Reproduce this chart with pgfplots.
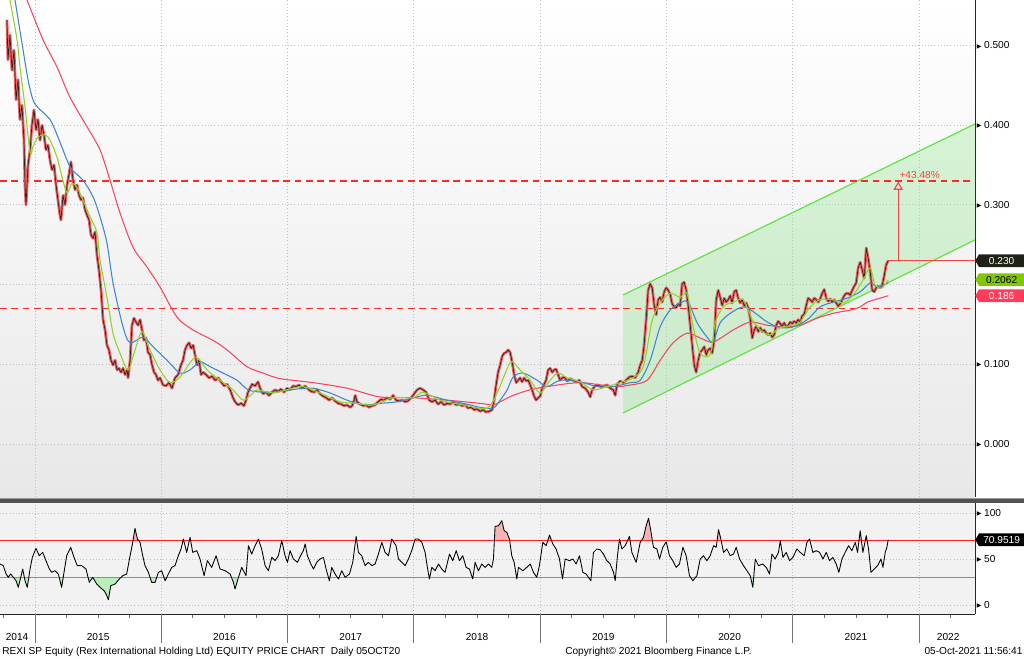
\documentclass[border=0pt]{standalone}
\usepackage{pgfplots}
\pgfplotsset{compat=1.18}
\usepackage{pgfplotstable}
\usepackage{fontspec}
\setmainfont{Liberation Sans}
\newfontfamily\dejavu{DejaVu Sans}
\usetikzlibrary{arrows.meta,shapes.symbols}

\definecolor{bgpanel}{RGB}{242,242,242}
\definecolor{gridc}{RGB}{190,190,208}
\definecolor{candlered}{RGB}{234,100,100}
\definecolor{magreen}{RGB}{145,212,40}
\definecolor{mablue}{RGB}{65,135,205}
\definecolor{mared}{RGB}{245,70,100}
\definecolor{chanline}{RGB}{100,225,70}
\definecolor{chanfill}{RGB}{140,230,140}
\definecolor{annred}{RGB}{240,70,70}
\definecolor{dashred}{RGB}{255,40,40}
\definecolor{tagdark}{RGB}{30,34,22}
\definecolor{taggreen}{RGB}{130,200,0}
\definecolor{tagred}{RGB}{255,60,90}
\definecolor{rsipink}{RGB}{245,180,180}
\definecolor{rsigreen}{RGB}{185,240,185}
\definecolor{rsired}{RGB}{255,30,30}
\definecolor{rsigr}{RGB}{50,205,50}

\newcommand{\lbl}{\fontsize{7.6}{9}\selectfont}
\newcommand{\tri}{\raisebox{0.6pt}{\dejavu\fontsize{4.5}{4.5}\selectfont ▶}\hspace{2pt}}

% REXI SP close (approx.)
\pgfplotstableread{
x y
2014.778 0.532
2014.786 0.482
2014.802 0.513
2014.818 0.469
2014.834 0.494
2014.850 0.432
2014.866 0.457
2014.881 0.407
2014.897 0.425
2014.913 0.381
2014.921 0.325
2014.929 0.300
2014.945 0.350
2014.961 0.369
2014.976 0.400
2014.992 0.419
2015.008 0.394
2015.024 0.407
2015.040 0.381
2015.056 0.400
2015.071 0.388
2015.087 0.369
2015.103 0.375
2015.119 0.356
2015.135 0.344
2015.151 0.350
2015.167 0.325
2015.182 0.306
2015.198 0.287
2015.206 0.281
2015.222 0.312
2015.238 0.300
2015.254 0.325
2015.269 0.338
2015.285 0.354
2015.301 0.331
2015.317 0.319
2015.333 0.325
2015.349 0.312
2015.365 0.306
2015.380 0.309
2015.396 0.294
2015.412 0.287
2015.428 0.281
2015.444 0.262
2015.460 0.258
2015.475 0.266
2015.491 0.237
2015.507 0.218
2015.523 0.193
2015.539 0.156
2015.555 0.143
2015.570 0.124
2015.586 0.118
2015.602 0.105
2015.618 0.099
2015.634 0.105
2015.650 0.093
2015.665 0.095
2015.681 0.090
2015.697 0.095
2015.713 0.087
2015.729 0.093
2015.737 0.083
2015.753 0.105
2015.768 0.149
2015.784 0.158
2015.800 0.153
2015.816 0.149
2015.832 0.156
2015.848 0.143
2015.863 0.130
2015.879 0.133
2015.895 0.115
2015.911 0.112
2015.927 0.099
2015.943 0.090
2015.958 0.087
2015.974 0.080
2015.990 0.083
2016.014 0.074
2016.038 0.073
2016.061 0.077
2016.085 0.070
2016.109 0.083
2016.133 0.087
2016.156 0.099
2016.172 0.105
2016.188 0.118
2016.204 0.124
2016.220 0.127
2016.236 0.120
2016.252 0.124
2016.267 0.112
2016.283 0.099
2016.299 0.105
2016.315 0.087
2016.331 0.090
2016.355 0.087
2016.378 0.083
2016.402 0.085
2016.426 0.080
2016.450 0.083
2016.473 0.078
2016.497 0.073
2016.521 0.075
2016.545 0.068
2016.568 0.058
2016.584 0.053
2016.608 0.049
2016.632 0.051
2016.655 0.048
2016.671 0.055
2016.687 0.065
2016.703 0.070
2016.719 0.075
2016.743 0.073
2016.766 0.078
2016.782 0.070
2016.806 0.063
2016.830 0.065
2016.853 0.061
2016.877 0.065
2016.901 0.068
2016.925 0.066
2016.948 0.069
2016.972 0.065
2016.996 0.070
2017.020 0.068
2017.044 0.073
2017.067 0.072
2017.091 0.074
2017.115 0.070
2017.139 0.073
2017.162 0.069
2017.186 0.066
2017.210 0.065
2017.234 0.068
2017.257 0.063
2017.281 0.060
2017.305 0.058
2017.329 0.055
2017.352 0.058
2017.376 0.054
2017.400 0.051
2017.424 0.050
2017.447 0.048
2017.471 0.049
2017.495 0.046
2017.511 0.048
2017.527 0.055
2017.535 0.061
2017.550 0.053
2017.574 0.050
2017.598 0.048
2017.622 0.049
2017.645 0.046
2017.669 0.048
2017.693 0.049
2017.717 0.053
2017.740 0.056
2017.764 0.055
2017.788 0.058
2017.812 0.056
2017.836 0.061
2017.859 0.055
2017.883 0.054
2017.907 0.055
2017.931 0.053
2017.954 0.054
2017.978 0.058
2018.002 0.063
2018.026 0.068
2018.049 0.070
2018.073 0.068
2018.097 0.065
2018.121 0.055
2018.144 0.053
2018.168 0.055
2018.192 0.050
2018.216 0.053
2018.239 0.049
2018.263 0.051
2018.287 0.050
2018.311 0.053
2018.334 0.049
2018.358 0.050
2018.382 0.048
2018.406 0.049
2018.429 0.045
2018.453 0.046
2018.477 0.043
2018.501 0.044
2018.525 0.041
2018.548 0.043
2018.572 0.040
2018.596 0.041
2018.620 0.043
2018.635 0.055
2018.651 0.074
2018.667 0.090
2018.683 0.099
2018.699 0.110
2018.715 0.114
2018.731 0.115
2018.746 0.118
2018.762 0.115
2018.778 0.103
2018.794 0.087
2018.810 0.077
2018.826 0.080
2018.841 0.083
2018.857 0.078
2018.873 0.083
2018.889 0.079
2018.905 0.080
2018.921 0.074
2018.936 0.068
2018.952 0.060
2018.968 0.055
2018.984 0.058
2019.000 0.060
2019.016 0.070
2019.031 0.075
2019.047 0.080
2019.063 0.093
2019.079 0.095
2019.095 0.090
2019.111 0.093
2019.126 0.094
2019.142 0.087
2019.158 0.080
2019.174 0.083
2019.190 0.084
2019.214 0.079
2019.237 0.082
2019.261 0.080
2019.285 0.078
2019.309 0.080
2019.332 0.072
2019.356 0.070
2019.380 0.065
2019.396 0.059
2019.412 0.068
2019.435 0.073
2019.459 0.074
2019.483 0.072
2019.507 0.073
2019.530 0.074
2019.554 0.070
2019.578 0.068
2019.594 0.061
2019.610 0.075
2019.633 0.079
2019.657 0.077
2019.681 0.080
2019.705 0.084
2019.728 0.085
2019.752 0.083
2019.776 0.090
2019.792 0.099
2019.808 0.105
2019.823 0.124
2019.839 0.156
2019.847 0.174
2019.855 0.193
2019.871 0.201
2019.887 0.196
2019.903 0.174
2019.919 0.162
2019.934 0.181
2019.950 0.184
2019.966 0.178
2019.982 0.191
2019.998 0.196
2020.014 0.193
2020.029 0.188
2020.045 0.176
2020.061 0.172
2020.077 0.171
2020.093 0.176
2020.109 0.173
2020.124 0.201
2020.140 0.203
2020.156 0.193
2020.172 0.174
2020.188 0.149
2020.204 0.124
2020.220 0.099
2020.235 0.090
2020.251 0.105
2020.267 0.115
2020.283 0.118
2020.299 0.122
2020.315 0.112
2020.330 0.118
2020.346 0.120
2020.362 0.114
2020.378 0.130
2020.394 0.181
2020.410 0.193
2020.425 0.184
2020.441 0.174
2020.457 0.183
2020.473 0.178
2020.489 0.181
2020.505 0.186
2020.520 0.177
2020.536 0.191
2020.552 0.193
2020.568 0.183
2020.584 0.177
2020.600 0.181
2020.616 0.173
2020.631 0.177
2020.647 0.171
2020.663 0.158
2020.679 0.133
2020.695 0.143
2020.711 0.148
2020.726 0.141
2020.742 0.146
2020.758 0.141
2020.774 0.143
2020.790 0.139
2020.806 0.137
2020.821 0.139
2020.837 0.134
2020.853 0.137
2020.869 0.149
2020.885 0.154
2020.901 0.151
2020.916 0.148
2020.932 0.152
2020.948 0.147
2020.964 0.149
2020.980 0.153
2020.996 0.151
2021.011 0.154
2021.027 0.152
2021.043 0.156
2021.059 0.153
2021.075 0.161
2021.091 0.163
2021.107 0.174
2021.122 0.183
2021.138 0.181
2021.154 0.178
2021.170 0.183
2021.186 0.181
2021.201 0.178
2021.217 0.182
2021.233 0.189
2021.249 0.194
2021.265 0.183
2021.281 0.179
2021.296 0.182
2021.312 0.178
2021.328 0.181
2021.344 0.177
2021.360 0.173
2021.376 0.176
2021.392 0.181
2021.407 0.186
2021.423 0.189
2021.439 0.189
2021.455 0.187
2021.471 0.193
2021.487 0.198
2021.502 0.202
2021.518 0.221
2021.534 0.228
2021.550 0.218
2021.566 0.208
2021.582 0.246
2021.597 0.233
2021.613 0.216
2021.629 0.193
2021.645 0.191
2021.661 0.196
2021.677 0.198
2021.692 0.196
2021.708 0.199
2021.724 0.211
2021.740 0.225
2021.756 0.230
}\price

\pgfplotstableread{
x y
2014.802 0.557
2014.858 0.507
2014.881 0.473
2014.921 0.423
2014.961 0.365
2014.984 0.373
2015.024 0.385
2015.079 0.388
2015.119 0.381
2015.174 0.360
2015.214 0.335
2015.254 0.315
2015.293 0.327
2015.333 0.322
2015.380 0.306
2015.436 0.285
2015.491 0.265
2015.515 0.231
2015.570 0.184
2015.618 0.139
2015.673 0.114
2015.737 0.093
2015.792 0.118
2015.848 0.141
2015.911 0.118
2015.990 0.093
2016.069 0.077
2016.149 0.084
2016.228 0.102
2016.283 0.109
2016.362 0.093
2016.465 0.080
2016.568 0.068
2016.648 0.055
2016.727 0.064
2016.758 0.068
2016.885 0.064
2016.996 0.068
2017.123 0.072
2017.257 0.064
2017.416 0.053
2017.550 0.051
2017.677 0.049
2017.836 0.058
2017.994 0.058
2018.073 0.065
2018.208 0.055
2018.390 0.049
2018.580 0.045
2018.659 0.064
2018.762 0.102
2018.818 0.097
2018.841 0.093
2018.921 0.080
2019.000 0.064
2019.079 0.080
2019.142 0.089
2019.214 0.083
2019.317 0.078
2019.420 0.068
2019.530 0.072
2019.633 0.077
2019.736 0.083
2019.816 0.097
2019.871 0.143
2019.895 0.159
2019.950 0.177
2020.029 0.189
2020.109 0.184
2020.164 0.189
2020.212 0.147
2020.267 0.114
2020.346 0.112
2020.386 0.152
2020.449 0.172
2020.528 0.178
2020.608 0.181
2020.679 0.156
2020.742 0.143
2020.821 0.137
2020.901 0.146
2021.004 0.149
2021.059 0.153
2021.138 0.172
2021.217 0.181
2021.320 0.181
2021.399 0.177
2021.479 0.187
2021.558 0.206
2021.613 0.221
2021.653 0.199
2021.708 0.196
2021.756 0.206
}\magr

\pgfplotstableread{
x y
2014.842 0.557
2014.897 0.503
2014.945 0.457
2014.984 0.432
2015.024 0.422
2015.119 0.407
2015.182 0.385
2015.254 0.356
2015.293 0.344
2015.380 0.331
2015.460 0.310
2015.515 0.285
2015.570 0.252
2015.618 0.202
2015.697 0.147
2015.753 0.127
2015.856 0.134
2015.935 0.122
2016.046 0.105
2016.149 0.089
2016.228 0.093
2016.307 0.103
2016.386 0.097
2016.489 0.089
2016.600 0.080
2016.687 0.068
2016.806 0.065
2016.941 0.066
2017.075 0.069
2017.202 0.070
2017.337 0.064
2017.471 0.055
2017.598 0.049
2017.733 0.051
2017.867 0.053
2017.994 0.058
2018.105 0.061
2018.263 0.055
2018.390 0.051
2018.525 0.046
2018.628 0.045
2018.683 0.055
2018.739 0.068
2018.786 0.084
2018.865 0.089
2018.976 0.080
2019.055 0.072
2019.158 0.080
2019.317 0.078
2019.451 0.072
2019.578 0.072
2019.713 0.077
2019.792 0.080
2019.871 0.105
2019.950 0.147
2020.029 0.168
2020.109 0.177
2020.172 0.178
2020.243 0.152
2020.322 0.134
2020.370 0.128
2020.425 0.152
2020.505 0.164
2020.608 0.172
2020.687 0.166
2020.798 0.153
2020.901 0.146
2021.004 0.147
2021.115 0.156
2021.217 0.172
2021.320 0.178
2021.431 0.183
2021.534 0.191
2021.613 0.202
2021.669 0.197
2021.756 0.202
}\mabl

\pgfplotstableread{
x y
2014.937 0.557
2015.064 0.507
2015.174 0.473
2015.277 0.435
2015.412 0.398
2015.515 0.369
2015.594 0.331
2015.673 0.290
2015.776 0.247
2015.887 0.222
2015.990 0.197
2016.125 0.159
2016.252 0.143
2016.410 0.130
2016.521 0.118
2016.679 0.097
2016.806 0.089
2016.941 0.082
2017.202 0.077
2017.471 0.070
2017.733 0.059
2017.994 0.058
2018.263 0.055
2018.525 0.051
2018.628 0.049
2018.683 0.053
2018.786 0.061
2018.921 0.068
2019.055 0.072
2019.317 0.077
2019.578 0.072
2019.713 0.074
2019.847 0.080
2019.950 0.105
2020.053 0.127
2020.164 0.139
2020.267 0.133
2020.370 0.128
2020.528 0.143
2020.663 0.153
2020.798 0.149
2020.924 0.147
2021.059 0.149
2021.194 0.158
2021.320 0.164
2021.455 0.168
2021.534 0.172
2021.590 0.178
2021.692 0.183
2021.756 0.186
}\mard

% RSI (approx.)
\pgfplotstableread{
x y
2014.723 44.6
2014.749 42.8
2014.771 33.7
2014.789 30.1
2014.807 33.7
2014.829 30.1
2014.850 26.4
2014.868 19.2
2014.887 30.1
2014.903 39.1
2014.921 26.4
2014.939 19.2
2014.961 39.1
2014.979 51.8
2015.008 61.6
2015.034 53.6
2015.061 57.2
2015.087 48.2
2015.114 39.1
2015.132 35.5
2015.159 37.3
2015.185 33.7
2015.211 19.2
2015.232 37.3
2015.251 53.6
2015.283 62.7
2015.309 51.8
2015.335 42.8
2015.370 42.8
2015.404 39.1
2015.430 24.6
2015.457 30.1
2015.489 22.8
2015.515 19.2
2015.547 15.6
2015.563 12.0
2015.581 5.8
2015.600 21.0
2015.634 22.8
2015.668 28.3
2015.695 31.9
2015.726 33.7
2015.753 53.6
2015.774 68.1
2015.792 83.3
2015.811 71.7
2015.832 68.1
2015.853 53.6
2015.871 42.8
2015.898 35.5
2015.924 24.6
2015.951 24.6
2015.977 35.5
2016.003 37.3
2016.030 26.4
2016.056 33.7
2016.083 40.9
2016.109 42.8
2016.135 53.6
2016.156 60.9
2016.175 71.7
2016.201 57.2
2016.228 73.6
2016.249 57.2
2016.281 59.1
2016.307 50.0
2016.339 31.9
2016.365 48.2
2016.399 40.9
2016.434 53.6
2016.465 39.1
2016.505 37.3
2016.545 33.7
2016.571 24.6
2016.584 17.4
2016.611 30.1
2016.637 40.9
2016.671 31.9
2016.690 64.5
2016.716 55.4
2016.743 64.5
2016.769 71.7
2016.795 60.9
2016.822 42.8
2016.848 37.3
2016.875 51.8
2016.901 48.2
2016.927 53.6
2016.954 69.9
2016.980 53.6
2016.999 46.4
2017.020 59.1
2017.046 50.0
2017.078 46.4
2017.099 52.5
2017.125 59.1
2017.139 66.3
2017.157 53.6
2017.184 44.6
2017.205 39.1
2017.231 46.4
2017.257 50.0
2017.284 51.8
2017.305 39.1
2017.331 26.4
2017.350 40.9
2017.376 33.7
2017.403 28.3
2017.429 37.3
2017.455 30.1
2017.490 33.7
2017.516 46.4
2017.543 74.6
2017.561 57.2
2017.587 53.6
2017.614 42.8
2017.640 46.4
2017.667 42.8
2017.693 44.6
2017.719 55.4
2017.746 68.1
2017.772 57.2
2017.799 53.6
2017.825 71.7
2017.859 64.5
2017.878 50.0
2017.904 46.4
2017.931 42.8
2017.957 50.0
2017.983 59.1
2018.010 71.7
2018.036 71.7
2018.063 68.1
2018.089 57.2
2018.107 40.9
2018.123 28.3
2018.142 40.9
2018.168 37.3
2018.195 44.6
2018.221 39.1
2018.247 35.5
2018.282 55.4
2018.308 48.2
2018.335 59.1
2018.361 48.2
2018.387 53.6
2018.414 40.9
2018.440 39.1
2018.466 28.3
2018.485 46.4
2018.511 37.3
2018.538 44.6
2018.564 40.9
2018.591 44.6
2018.617 40.9
2018.630 50.0
2018.643 85.5
2018.670 86.2
2018.696 91.7
2018.715 80.8
2018.736 79.0
2018.757 71.7
2018.775 53.6
2018.794 46.4
2018.815 28.3
2018.828 40.9
2018.863 37.3
2018.894 40.9
2018.921 44.6
2018.947 35.5
2018.973 30.1
2018.994 42.8
2019.021 68.1
2019.047 64.5
2019.074 76.1
2019.100 66.3
2019.126 60.9
2019.153 50.0
2019.177 28.3
2019.198 50.0
2019.232 48.2
2019.259 50.0
2019.285 44.6
2019.311 53.6
2019.338 35.5
2019.364 33.7
2019.382 30.1
2019.401 26.4
2019.422 57.2
2019.449 60.9
2019.475 60.0
2019.501 55.4
2019.528 48.2
2019.554 44.6
2019.581 35.5
2019.594 26.4
2019.612 53.6
2019.628 71.7
2019.647 60.9
2019.673 64.5
2019.707 74.6
2019.726 57.2
2019.760 46.4
2019.792 68.1
2019.818 73.6
2019.839 86.2
2019.858 94.2
2019.876 80.8
2019.897 62.7
2019.924 60.9
2019.945 50.0
2019.971 62.7
2019.998 68.8
2020.024 53.6
2020.050 48.2
2020.077 40.9
2020.103 44.6
2020.130 62.7
2020.156 53.6
2020.182 31.9
2020.209 26.4
2020.241 31.9
2020.267 50.0
2020.293 53.6
2020.320 48.2
2020.346 53.6
2020.373 64.5
2020.394 62.7
2020.412 81.9
2020.431 71.7
2020.452 57.2
2020.478 60.9
2020.505 53.6
2020.531 55.4
2020.552 62.7
2020.579 50.0
2020.610 42.8
2020.637 37.3
2020.663 31.9
2020.684 19.2
2020.703 50.0
2020.729 42.8
2020.763 44.6
2020.790 40.9
2020.816 33.7
2020.835 55.4
2020.861 50.0
2020.887 57.2
2020.901 69.9
2020.922 51.8
2020.948 57.2
2020.975 48.2
2021.001 51.8
2021.033 60.9
2021.059 57.2
2021.091 53.6
2021.112 68.1
2021.133 71.7
2021.159 57.2
2021.186 59.1
2021.212 57.2
2021.239 50.0
2021.265 57.2
2021.291 48.2
2021.318 51.8
2021.344 44.6
2021.365 35.5
2021.389 50.0
2021.415 57.2
2021.442 64.5
2021.468 59.1
2021.495 68.1
2021.513 57.2
2021.534 80.8
2021.555 57.2
2021.582 75.4
2021.600 60.9
2021.619 35.5
2021.645 39.1
2021.672 42.8
2021.698 50.0
2021.714 40.9
2021.732 57.2
2021.745 62.7
2021.756 71.0
}\rsi

\begin{document}
\begin{tikzpicture}
% ---------------- price panel ----------------
\begin{axis}[
  at={(0pt,0pt)}, anchor=north west,
  width=731.25pt, height=372.75pt, scale only axis,
  xmin=2014.723, xmax=2022.443, ymin=-0.0665, ymax=0.557,
  axis y line*=right, axis x line*=bottom,
  x axis line style={draw=none},
  y axis line style={draw=black!85, line width=0.75pt},
  xtick={2015,2016,2017,2018,2019,2020,2021,2022}, xticklabels={},
  ytick={0,0.1,0.2,0.3,0.4,0.5},
  yticklabels={\tri 0.000,\tri 0.100,,\tri 0.300,\tri 0.400,\tri 0.500},
  major tick length=0pt,
  grid=major, grid style={gridc, dotted, line width=0.6pt},
  axis background/.style={shade, top color=white, bottom color=black!9},
  yticklabel style={anchor=west, inner sep=0pt, xshift=1.2pt, font=\lbl},
]
% trend channel
\addplot[draw=none, fill=chanfill, fill opacity=0.32] coordinates {(2019.657,0.039) (2022.443,0.256) (2022.443,0.4015) (2019.657,0.187)} -- cycle;
\addplot[chanline, line width=0.9pt] coordinates {(2019.657,0.187) (2022.443,0.4015)};
\addplot[chanline, line width=0.9pt] coordinates {(2019.657,0.039) (2022.443,0.256)};
% dashed levels
\draw[draw=dashred, line width=0.9pt, dash pattern=on 5pt off 3.5pt]
  (axis cs:2014.723,0.170) -- (axis cs:2022.443,0.170)
  (axis cs:2014.723,0.330) -- (axis cs:2022.443,0.330);
% price (candles approximated)
\addplot[candlered, line width=2.1pt, line join=round] table {\price};
\addplot[black, line width=0.5pt, opacity=0.75, line join=round] table {\price};
% moving averages
\addplot[mared, line width=0.8pt, smooth] table {\mard};
\addplot[mablue, line width=0.8pt, smooth] table {\mabl};
\addplot[magreen, line width=0.8pt, smooth] table {\magr};
% annotation
\draw[annred, line width=0.8pt] (axis cs:2021.756,0.230) -- (axis cs:2022.443,0.230);
\draw[annred, line width=0.8pt, -{Triangle[open, length=6pt, width=7pt]}] (axis cs:2021.835,0.230) -- (axis cs:2021.835,0.329);
\node[annred, font=\lbl, anchor=base west, inner sep=0pt] at (axis cs:2021.843,0.333) {+43.48\%};
\coordinate (tagA) at (axis cs:2022.443,0.230);
\coordinate (tagB) at (axis cs:2022.443,0.2062);
\coordinate (tagC) at (axis cs:2022.443,0.186);
\end{axis}

% ---------------- RSI panel ----------------
\begin{axis}[
  at={(0pt,-377.25pt)}, anchor=north west,
  width=731.25pt, height=83.25pt, scale only axis,
  xmin=2014.723, xmax=2022.443, ymin=-9.8, ymax=110.9,
  axis y line*=right, axis x line*=bottom,
  axis line style={draw=black!85, line width=0.75pt},
  xtick={2014.858,2015.5,2016.5,2017.5,2018.5,2019.5,2020.5,2021.5,2022.231},
  xticklabels={2014,2015,2016,2017,2018,2019,2020,2021,2022},
  extra x ticks={2015,2016,2017,2018,2019,2020,2021,2022},
  extra x tick labels={},
  extra x tick style={grid=major, major tick length=21.75pt},
  minor xtick={2014.75,2015,...,2022.25},
  minor tick length=3pt,
  major tick length=0pt,
  tick align=outside,
  xtick style={draw=black!55, line width=0.6pt},
  ytick={0,50,100}, yticklabels={\tri 0,\tri 50,\tri 100},
  ymajorgrids, grid style={gridc, dotted, line width=0.6pt},
  axis background/.style={fill=bgpanel},
  yticklabel style={anchor=west, inner sep=0pt, xshift=1.2pt, font=\lbl},
  xticklabel style={anchor=base, yshift=-19.5pt, font=\lbl},
]
\begin{scope}
  \clip (axis cs:2014.6,70) rectangle (axis cs:2022.6,115);
  \addplot[draw=none, fill=rsipink] table {\rsi} \closedcycle;
\end{scope}
\begin{scope}
  \clip (axis cs:2014.6,-15) rectangle (axis cs:2022.6,30);
  \addplot[draw=none, fill=rsigreen] table {\rsi} -- (axis cs:2021.756,115) -- (axis cs:2014.723,115) -- cycle;
\end{scope}
\draw[rsired, line width=0.75pt] (axis cs:2014.723,70) -- (axis cs:2022.443,70);
\draw[rsigr, line width=0.75pt] (axis cs:2014.723,30) -- (axis cs:2022.443,30);
\addplot[black, line width=0.65pt, line join=round] table {\rsi};
\coordinate (tagD) at (axis cs:2022.443,70.95);
\end{axis}

% separator bar
\fill[black!68] (0pt,-373.9pt) rectangle (768pt,-377.1pt);
\fill[black!40] (0pt,-373.6pt) rectangle (768pt,-374.2pt);

% value tags
\tikzset{valtag/.style={shape=signal, signal to=west, signal pointer angle=120, anchor=west,
  minimum width=36.75pt, minimum height=9.5pt, inner sep=1pt, text height=5.4pt, text depth=0pt, font=\lbl}}
\node[valtag, fill=tagdark, text=white] at (tagA) {0.230};
\node[valtag, fill=taggreen, text=black] at (tagB) {0.2062};
\node[valtag, fill=tagred, text=white] at (tagC) {0.186};
\node[valtag, fill=black, text=white] at (tagD) {70.9519};

% footer
\node[anchor=base west, inner sep=0pt, font=\lbl] at (1.5pt,-490.5pt) {REXI SP Equity (Rex International Holding Ltd) EQUITY PRICE CHART\ \ Daily 05OCT20};
\node[anchor=base west, inner sep=0pt, font=\lbl] at (423.75pt,-490.5pt) {Copyright© 2021 Bloomberg Finance L.P.};
\node[anchor=base east, inner sep=0pt, font=\lbl] at (767pt,-490.5pt) {05-Oct-2021 11:56:41};

\pgfresetboundingbox
\path[use as bounding box] (0pt,0pt) rectangle (768pt,-493.5pt);
\end{tikzpicture}
\end{document}
